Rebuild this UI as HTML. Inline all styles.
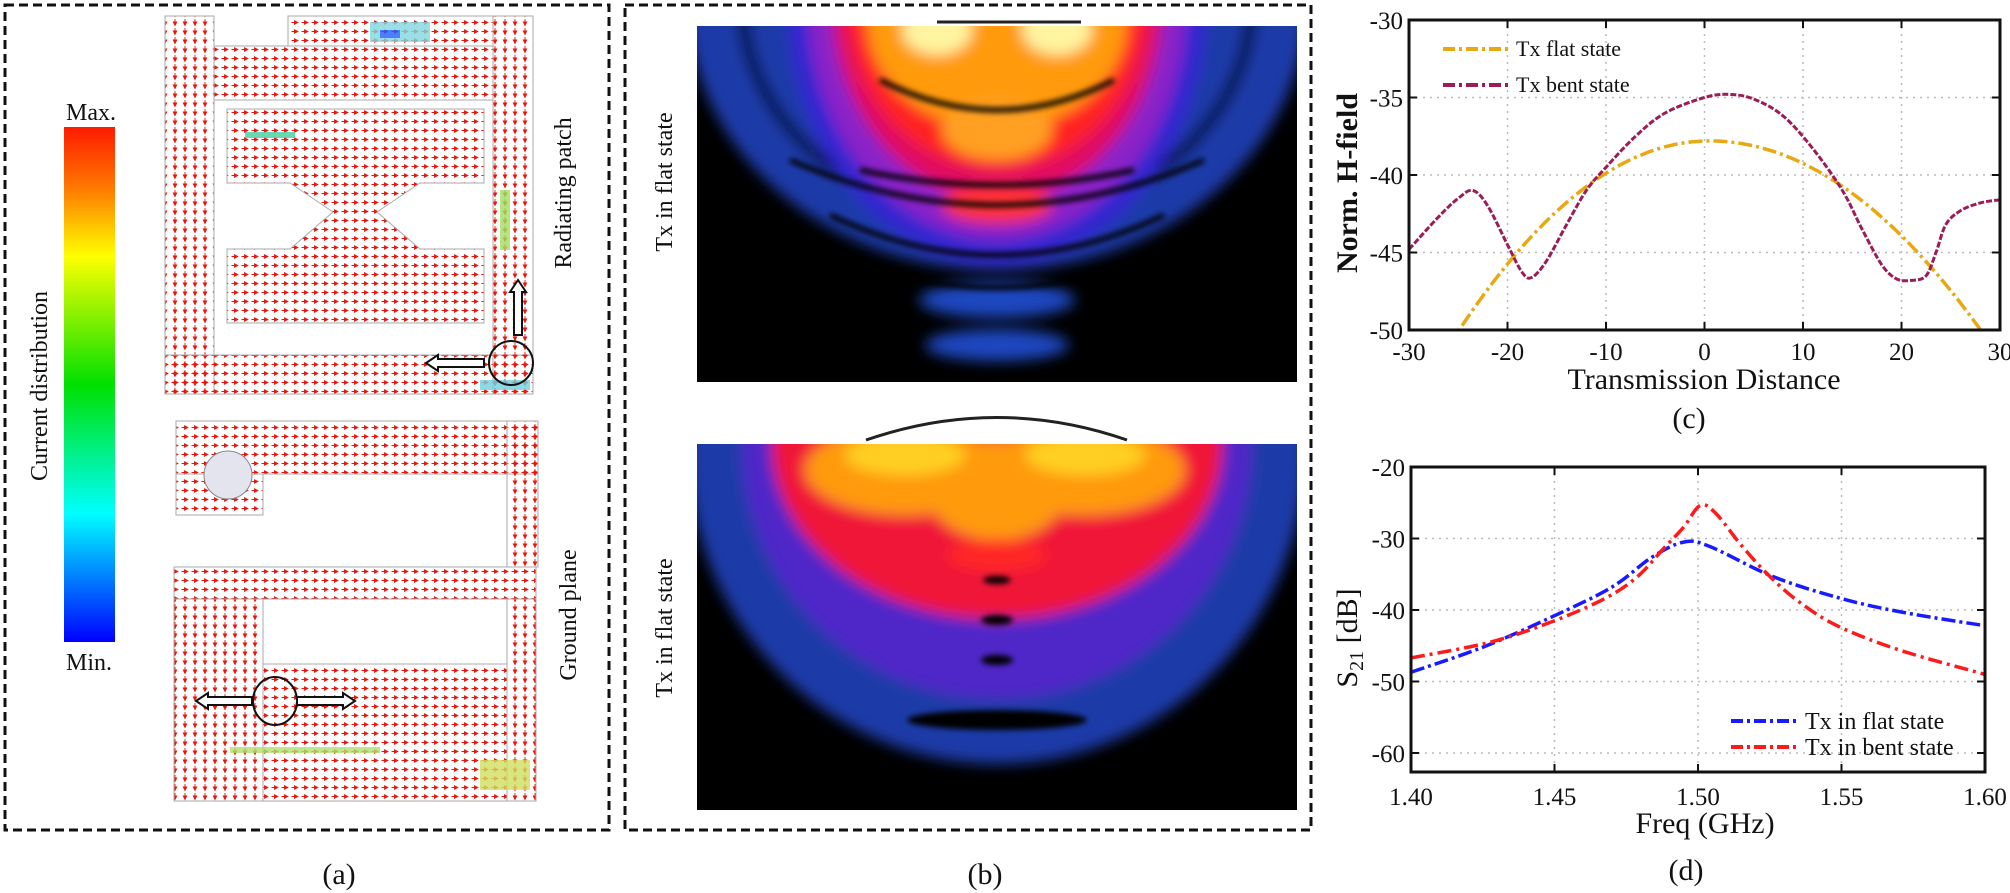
<!DOCTYPE html>
<html><head><meta charset="utf-8"><style>
html,body{margin:0;padding:0;background:#fff;}
svg{display:block;}
text{font-family:"Liberation Serif",serif;fill:#111;}
</style></head><body>
<svg id="s" width="2010" height="893" viewBox="0 0 2010 893" xmlns="http://www.w3.org/2000/svg">
<defs>
<linearGradient id="cb" x1="0" y1="0" x2="0" y2="1">
<stop offset="0" stop-color="#ff1a00"/><stop offset="0.12" stop-color="#ff7a00"/><stop offset="0.25" stop-color="#ffff00"/>
<stop offset="0.5" stop-color="#00e000"/><stop offset="0.75" stop-color="#00ffff"/><stop offset="1" stop-color="#0000ff"/>
</linearGradient>
<pattern id="arr" width="10" height="9" patternUnits="userSpaceOnUse">
<path d="M1.5 4.5 L6 4.5 M4.5 2.8 L7.8 4.5 L4.5 6.2 Z" stroke="#e8160e" stroke-width="0.9" fill="#e8160e"/>
</pattern>
<pattern id="arr2" width="10" height="9" patternUnits="userSpaceOnUse">
<path d="M5 1 L5 5.5 M3.3 4 L5 7.5 L6.7 4 Z" stroke="#e8160e" stroke-width="0.9" fill="#e8160e"/>
</pattern>
<filter id="bl" x="-20%" y="-20%" width="140%" height="140%"><feGaussianBlur stdDeviation="7"/></filter>
<filter id="bl2" x="-20%" y="-20%" width="140%" height="140%"><feGaussianBlur stdDeviation="3"/></filter>
<clipPath id="h1"><rect x="697" y="26" width="600" height="356"/></clipPath>
<clipPath id="h2"><rect x="697" y="444" width="600" height="366"/></clipPath>
<clipPath id="pc"><rect x="1409" y="20" width="591" height="310"/></clipPath>
<clipPath id="pd"><rect x="1411" y="467" width="574" height="305"/></clipPath>
</defs>

<rect x="5" y="5" width="604" height="825" fill="none" stroke="#111" stroke-width="3" stroke-dasharray="9 5"/>
<rect x="625" y="5" width="686" height="825" fill="none" stroke="#111" stroke-width="3" stroke-dasharray="9 5"/>

<!-- Panel (a) -->
<rect x="64" y="127" width="51" height="515" fill="url(#cb)"/>
<text x="91" y="120" font-size="24" text-anchor="middle">Max.</text>
<text x="89" y="670" font-size="24" text-anchor="middle">Min.</text>
<text transform="translate(47,386) rotate(-90)" font-size="24" text-anchor="middle">Current distribution</text>
<text transform="translate(571,193) rotate(-90)" font-size="24" text-anchor="middle">Radiating patch</text>
<text transform="translate(576,615) rotate(-90)" font-size="24" text-anchor="middle">Ground plane</text>
<g stroke="#aaa" stroke-width="1">
<rect x="165" y="16" width="49" height="378" fill="url(#arr2)"/>
<rect x="165" y="355" width="368" height="39" fill="url(#arr)"/>
<rect x="493" y="16" width="40" height="378" fill="url(#arr2)"/>
<rect x="214" y="46" width="279" height="54" fill="url(#arr)"/>
<rect x="288" y="16" width="205" height="30" fill="url(#arr)"/>
<polygon points="227,109 484,109 484,183 420,183 377,212 420,249 484,249 484,323 227,323 227,249 290,249 333,212 290,183 227,183" fill="url(#arr)"/>
<rect x="176" y="421" width="362" height="53" fill="url(#arr)"/>
<rect x="176" y="474" width="87" height="41" fill="url(#arr)"/>
<rect x="507" y="421" width="31" height="146" fill="url(#arr2)"/>
<rect x="174" y="567" width="362" height="32" fill="url(#arr)"/>
<rect x="174" y="599" width="89" height="202" fill="url(#arr2)"/>
<rect x="507" y="599" width="29" height="202" fill="url(#arr2)"/>
<rect x="263" y="664" width="244" height="137" fill="url(#arr)"/>
</g>
<ellipse cx="228" cy="475" rx="24" ry="24" fill="#e4e4ee" stroke="#888"/>
<g opacity="0.8">
<rect x="370" y="22" width="60" height="20" fill="#7fd8e0"/><rect x="380" y="30" width="20" height="8" fill="#2060ff"/>
<rect x="245" y="132" width="50" height="6" fill="#40d0a0"/>
<rect x="500" y="190" width="10" height="60" fill="#a0e060"/>
<rect x="480" y="380" width="50" height="10" fill="#70d0e0"/>
<rect x="230" y="747" width="150" height="6" fill="#b0e070"/>
<rect x="480" y="760" width="50" height="30" fill="#d0e060"/>
</g>
<g fill="#fff" stroke="#111" stroke-width="2">
<ellipse cx="511" cy="363" rx="22" ry="22" fill="none"/>
<polygon points="426,363 438,355 438,359 484,359 484,367 438,367 438,371"/>
<polygon points="518,280 526,292 522,292 522,335 514,335 514,292 510,292"/>
<ellipse cx="275" cy="701" rx="22" ry="24" fill="none"/>
<polygon points="196,701 208,693 208,697 252,697 252,705 208,705 208,709"/>
<polygon points="355,701 343,693 343,697 297,697 297,705 343,705 343,709"/>
</g>
<text x="339" y="884" font-size="30" text-anchor="middle">(a)</text>

<!-- Panel (b) -->
<text transform="translate(672,182) rotate(-90)" font-size="24" text-anchor="middle">Tx in flat state</text>
<text transform="translate(672,628) rotate(-90)" font-size="24" text-anchor="middle">Tx in flat state</text>
<g clip-path="url(#h1)">
<rect x="697" y="26" width="600" height="356" fill="#000"/>
<g filter="url(#bl)">
<ellipse cx="997" cy="0" rx="310" ry="270" fill="#1e3aa8"/>
<ellipse cx="997" cy="0" rx="255" ry="220" fill="none" stroke="#000" stroke-width="10"/>
<ellipse cx="997" cy="300" rx="78" ry="18" fill="#1e46c0"/>
<ellipse cx="997" cy="345" rx="72" ry="16" fill="#1e46c0"/>
<ellipse cx="997" cy="0" rx="210" ry="265" fill="#3028d0"/>
<ellipse cx="997" cy="0" rx="190" ry="240" fill="#8a20c8"/>
<ellipse cx="997" cy="0" rx="165" ry="200" fill="#e01060"/>
<ellipse cx="997" cy="0" rx="150" ry="170" fill="#ff2020"/>
<ellipse cx="997" cy="20" rx="130" ry="110" fill="#ff9a10"/>
<ellipse cx="997" cy="130" rx="55" ry="30" fill="#ffa020"/>
<ellipse cx="997" cy="205" rx="55" ry="18" fill="#ff3030"/>
<ellipse cx="937" cy="30" rx="35" ry="25" fill="#fff4a0"/>
<ellipse cx="1057" cy="30" rx="35" ry="25" fill="#fff4a0"/>
</g>
<g filter="url(#bl2)" fill="none" stroke="#000" stroke-width="5">
<path d="M790 160 Q997 250 1204 160"/>
<path d="M830 215 Q997 295 1164 215"/>
<path d="M850 260 Q997 315 1144 260"/>
<path d="M880 80 Q997 140 1114 80"/>
<path d="M860 170 Q997 200 1134 170"/>
</g>
</g>
<line x1="937" y1="22" x2="1081" y2="22" stroke="#222" stroke-width="3"/>
<g clip-path="url(#h2)">
<rect x="697" y="444" width="600" height="366" fill="#000"/>
<g filter="url(#bl)">
<ellipse cx="997" cy="444" rx="310" ry="320" fill="#1e3aa8"/>
<ellipse cx="997" cy="444" rx="255" ry="255" fill="#5028c8"/>
<ellipse cx="997" cy="444" rx="225" ry="175" fill="#f01838"/>
<ellipse cx="905" cy="470" rx="100" ry="45" fill="#ff9a10"/>
<ellipse cx="1085" cy="470" rx="100" ry="45" fill="#ff9a10"/>
<ellipse cx="997" cy="490" rx="70" ry="50" fill="#ff9a10"/>
<ellipse cx="905" cy="455" rx="60" ry="20" fill="#ffd020"/>
<ellipse cx="1085" cy="455" rx="60" ry="20" fill="#ffd020"/>
<ellipse cx="997" cy="555" rx="50" ry="16" fill="#ff2828"/>
</g>
<g filter="url(#bl2)" fill="#000">
<ellipse cx="997" cy="580" rx="14" ry="4"/><ellipse cx="997" cy="620" rx="16" ry="5"/>
<ellipse cx="997" cy="660" rx="16" ry="5"/><ellipse cx="997" cy="720" rx="90" ry="10"/>
</g>
</g>
<path d="M866 440 Q997 395 1127 440" fill="none" stroke="#222" stroke-width="3"/>
<text x="985" y="884" font-size="30" text-anchor="middle">(b)</text>

<!-- Panel (c) -->
<g id="gc"></g>
<text transform="translate(1357,183) rotate(-90)" font-size="30" text-anchor="middle" font-weight="bold">Norm. H-field</text>
<text x="1704" y="389" font-size="30" text-anchor="middle">Transmission Distance</text>
<text x="1689" y="428" font-size="30" text-anchor="middle">(c)</text>
<line x1="1443" y1="49" x2="1508" y2="49" stroke="#e8a812" stroke-width="4" stroke-dasharray="12 4 3 4"/>
<text x="1516" y="56" font-size="22">Tx flat state</text>
<line x1="1443" y1="85" x2="1508" y2="85" stroke="#9c1c58" stroke-width="4" stroke-dasharray="12 4 3 4"/>
<text x="1516" y="92" font-size="22">Tx bent state</text>

<!-- Panel (d) -->
<g id="gd"></g>
<text transform="translate(1357,638) rotate(-90)" font-size="30" text-anchor="middle">S<tspan font-size="20" dy="6">21</tspan><tspan dy="-6"> [dB]</tspan></text>
<text x="1705" y="833" font-size="30" text-anchor="middle">Freq (GHz)</text>
<text x="1686" y="880" font-size="30" text-anchor="middle">(d)</text>
<line x1="1731" y1="721" x2="1796" y2="721" stroke="#1a1aff" stroke-width="4" stroke-dasharray="12 4 3 4"/>
<text x="1805" y="729" font-size="24">Tx in flat state</text>
<line x1="1731" y1="747" x2="1796" y2="747" stroke="#ff1a1a" stroke-width="4" stroke-dasharray="12 4 3 4"/>
<text x="1805" y="755" font-size="24">Tx in bent state</text>
</svg>
<script>
var NS="http://www.w3.org/2000/svg";
function el(p,t,a,txt){var e=document.createElementNS(NS,t);for(var k in a)e.setAttribute(k,a[k]);if(txt!==undefined)e.textContent=txt;p.appendChild(e);return e;}
function cr(pts){var d="M"+pts[0][0].toFixed(1)+" "+pts[0][1].toFixed(1);
for(var i=0;i<pts.length-1;i++){var p0=pts[Math.max(0,i-1)],p1=pts[i],p2=pts[i+1],p3=pts[Math.min(pts.length-1,i+2)];
var c1=[p1[0]+(p2[0]-p0[0])/6,p1[1]+(p2[1]-p0[1])/6],c2=[p2[0]-(p3[0]-p1[0])/6,p2[1]-(p3[1]-p1[1])/6];
d+=" C"+c1[0].toFixed(1)+" "+c1[1].toFixed(1)+" "+c2[0].toFixed(1)+" "+c2[1].toFixed(1)+" "+p2[0].toFixed(1)+" "+p2[1].toFixed(1);}
return d;}
(function(){
var g=document.getElementById("gc");
var L=1409,R=2000,T=20,B=330;
function X(v){return L+(v+30)/60*(R-L);} function Y(v){return T+(-30-v)/20*(B-T);}
for(var v=-20;v<=20;v+=10) el(g,"line",{x1:X(v),y1:T,x2:X(v),y2:B,stroke:"#bbb","stroke-width":1.5,"stroke-dasharray":"2 5"});
for(var v=-35;v>=-45;v-=5) el(g,"line",{x1:L,y1:Y(v),x2:R,y2:Y(v),stroke:"#bbb","stroke-width":1.5,"stroke-dasharray":"2 5"});
for(var v=-30;v<=30;v+=10){el(g,"line",{x1:X(v),y1:B,x2:X(v),y2:B-8,stroke:"#111","stroke-width":2});el(g,"line",{x1:X(v),y1:T,x2:X(v),y2:T+8,stroke:"#111","stroke-width":2});
el(g,"text",{x:X(v),y:B+30,"font-size":25,"text-anchor":"middle"},String(v));}
for(var v=-30;v>=-50;v-=5){el(g,"line",{x1:L,y1:Y(v),x2:L+8,y2:Y(v),stroke:"#111","stroke-width":2});el(g,"line",{x1:R,y1:Y(v),x2:R-8,y2:Y(v),stroke:"#111","stroke-width":2});
el(g,"text",{x:L-6,y:Y(v)+9,"font-size":25,"text-anchor":"end"},String(v));}
var cg=el(g,"g",{"clip-path":"url(#pc)"});
var f=[];for(var x=-26;x<=29;x+=0.5){var k=x<0.5?0.0189:0.0161;f.push([X(x),Y(-37.8-k*(x-0.5)*(x-0.5))]);}
el(cg,"path",{d:cr(f),fill:"none",stroke:"#e8a812","stroke-width":3.5,"stroke-dasharray":"14 4 3 4"});
var b=[[-30,-44.8],[-27,-42.7],[-25,-41.5],[-23.5,-41],[-22,-42],[-20,-44.5],[-18.5,-46.3],[-17.5,-46.6],[-16,-45.5],[-14,-43.2],[-12,-41],[-10,-39.5],[-7,-37.5],[-4,-36],[0,-35],[2.5,-34.8],[5,-35.1],[8,-36.2],[11,-38.3],[14,-41],[16,-43.5],[18,-45.8],[19.5,-46.7],[21,-46.8],[22.5,-46.5],[23.5,-45],[24.5,-43.2],[26,-42.3],[28,-41.8],[30,-41.6]];
el(cg,"path",{d:cr(b.map(function(p){return[X(p[0]),Y(p[1])];})),fill:"none",stroke:"#9c1c58","stroke-width":3,"stroke-dasharray":"6 2"});
el(g,"rect",{x:L,y:T,width:R-L,height:B-T,fill:"none",stroke:"#111","stroke-width":3});
})();
(function(){
var g=document.getElementById("gd");
var L=1411,R=1985,T=467,B=772;
function X(v){return L+(v-1.4)/0.2*(R-L);} function Y(v){return T+(-20-v)*7.15;}
for(var i=1;i<4;i++){var v=1.4+i*0.05;el(g,"line",{x1:X(v),y1:T,x2:X(v),y2:B,stroke:"#bbb","stroke-width":1.5,"stroke-dasharray":"2 5"});}
for(var v=-30;v>=-60;v-=10) el(g,"line",{x1:L,y1:Y(v),x2:R,y2:Y(v),stroke:"#bbb","stroke-width":1.5,"stroke-dasharray":"2 5"});
var lab=["1.40","1.45","1.50","1.55","1.60"];
for(var i=0;i<5;i++){var v=1.4+i*0.05;el(g,"line",{x1:X(v),y1:B,x2:X(v),y2:B-8,stroke:"#111","stroke-width":2});el(g,"line",{x1:X(v),y1:T,x2:X(v),y2:T+8,stroke:"#111","stroke-width":2});
el(g,"text",{x:X(v),y:B+33,"font-size":25,"text-anchor":"middle"},lab[i]);}
for(var v=-20;v>=-60;v-=10){el(g,"line",{x1:L,y1:Y(v),x2:L+8,y2:Y(v),stroke:"#111","stroke-width":2});el(g,"line",{x1:R,y1:Y(v),x2:R-8,y2:Y(v),stroke:"#111","stroke-width":2});
el(g,"text",{x:L-6,y:Y(v)+9,"font-size":25,"text-anchor":"end"},String(v));}
var cg=el(g,"g",{"clip-path":"url(#pd)"});
var bl=[[1.40,-48.7],[1.425,-45.2],[1.45,-40.8],[1.47,-36.8],[1.484,-32.6],[1.495,-30.5],[1.504,-31.1],[1.526,-35.3],[1.549,-38.3],[1.571,-40.3],[1.60,-42.2]];
var rd=[[1.40,-46.7],[1.4276,-44.5],[1.45,-41.5],[1.468,-38.3],[1.479,-35.3],[1.488,-31.4],[1.495,-28.4],[1.5007,-25.4],[1.506,-26.4],[1.515,-30.9],[1.524,-34.9],[1.535,-38.8],[1.549,-42.3],[1.571,-45.7],[1.60,-49]];
el(cg,"path",{d:cr(bl.map(function(p){return[X(p[0]),Y(p[1])];})),fill:"none",stroke:"#1a1aff","stroke-width":3.5,"stroke-dasharray":"14 4 3 4"});
el(cg,"path",{d:cr(rd.map(function(p){return[X(p[0]),Y(p[1])];})),fill:"none",stroke:"#ff1a1a","stroke-width":3.5,"stroke-dasharray":"14 5 3 5"});
el(g,"rect",{x:L,y:T,width:R-L,height:B-T,fill:"none",stroke:"#111","stroke-width":3});
})();
</script>
</body></html>
